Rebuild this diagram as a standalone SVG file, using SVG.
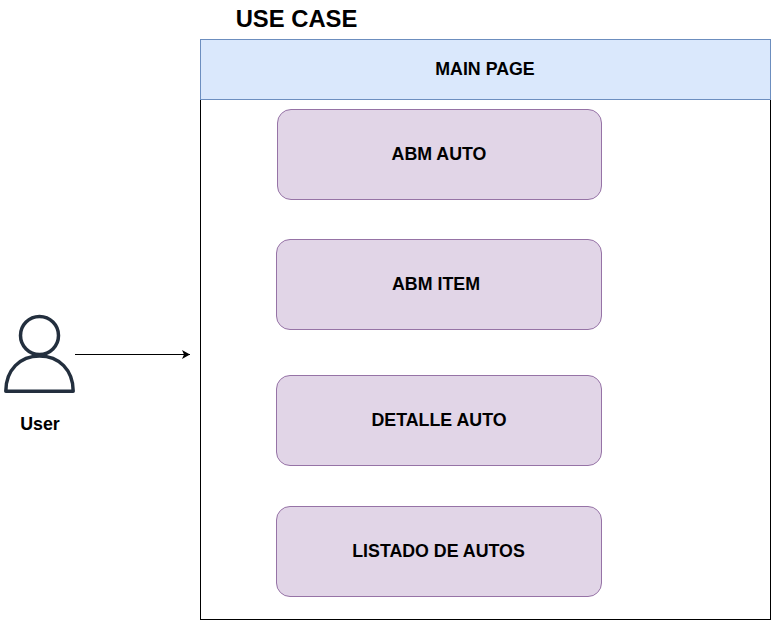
<svg xmlns="http://www.w3.org/2000/svg" width="771" height="621" viewBox="0 0 771 621">
<style>
text{font-family:"Liberation Sans",Arial,sans-serif;font-weight:700;fill:#000;text-anchor:middle}
.l{font-size:17.8px}
.c{fill:#e1d5e7;stroke:#9673a6;stroke-width:1}
</style>
<defs><marker id="a" markerWidth="9" markerHeight="10" refX="8" refY="4.500" orient="auto" markerUnits="userSpaceOnUse"><path d="M0 0L8 4.500L0 9L2 4.500Z" fill="#000"/></marker></defs>
<rect width="771" height="621" fill="#fff"/>
<text id="title" x="296.500" y="27" style="font-size:23.8px">USE CASE</text>
<g id="frame"><rect x="200.500" y="99.500" width="570" height="520" fill="#fff" stroke="#000"/></g>
<g id="main-page"><rect x="200.500" y="39.500" width="570" height="60" fill="#dae8fc" stroke="#6c8ebf"/><text class="l" x="485" y="74.500">MAIN PAGE</text></g>
<g id="abm-auto"><rect class="c" x="277.500" y="109.500" width="324" height="90" rx="13.500"/><text class="l" x="439" y="159.500">ABM AUTO</text></g>
<g id="abm-item"><rect class="c" x="276.500" y="239.500" width="325" height="90" rx="13.500"/><text class="l" x="436" y="289.500">ABM ITEM</text></g>
<g id="detalle-auto"><rect class="c" x="276.500" y="375.500" width="325" height="90" rx="13.500"/><text class="l" x="439" y="425.500">DETALLE AUTO</text></g>
<g id="listado"><rect class="c" x="276.500" y="506.500" width="325" height="90" rx="13.500"/><text class="l" x="438.500" y="556.500">LISTADO DE AUTOS</text></g>
<g id="user"><circle cx="39.500" cy="335.500" r="19" fill="none" stroke="#232f3e" stroke-width="3.500"/><path d="M5.800 391.200C5.800 370 20 356 39.500 356S73.200 370 73.200 391.200Z" fill="none" stroke="#232f3e" stroke-width="3.500" stroke-linejoin="round"/><text class="l" x="40" y="429.500">User</text></g>
<g id="connectors"><line x1="75" y1="354.500" x2="190" y2="354.500" stroke="#000" marker-end="url(#a)"/></g>
</svg>
